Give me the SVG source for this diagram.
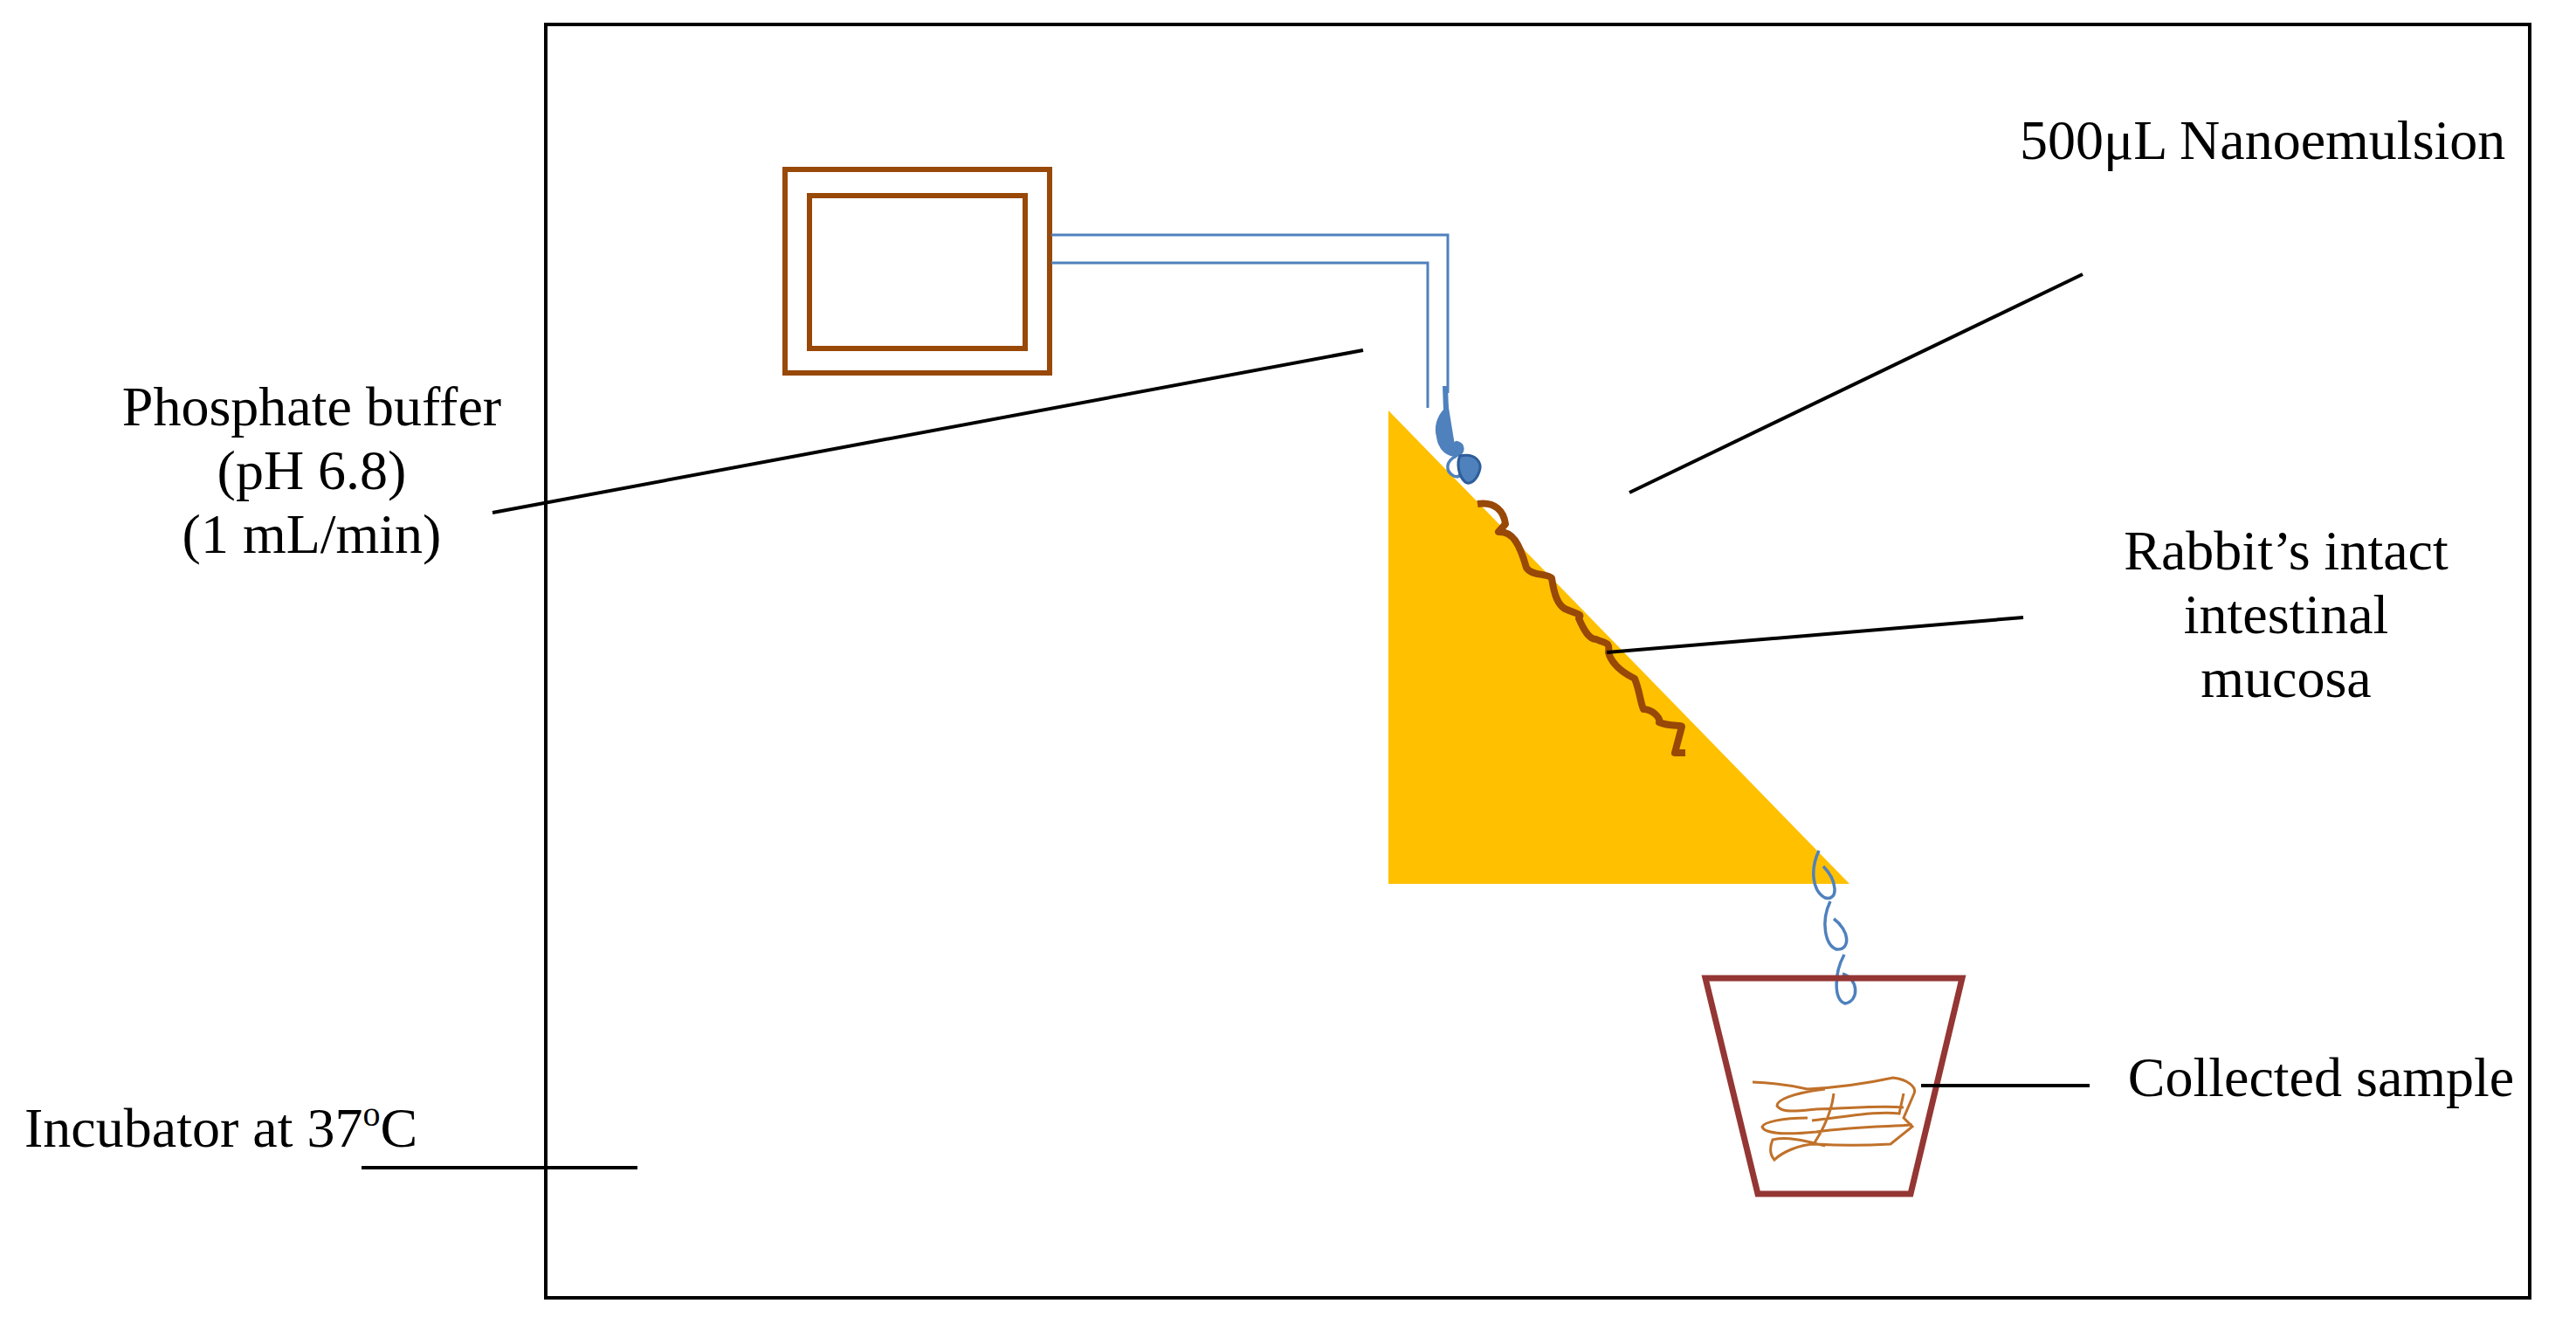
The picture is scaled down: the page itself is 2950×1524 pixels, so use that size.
<svg xmlns="http://www.w3.org/2000/svg" width="2950" height="1524" viewBox="0 0 2950 1524">
<style>
.t{font-family:"Liberation Serif","DejaVu Serif",serif;font-size:64px;fill:#000}
.l{stroke:#000;stroke-width:4;fill:none}
.tube{stroke:#4f81bd;stroke-width:3;fill:none}
.drop{stroke:#4f81bd;stroke-width:3.5;fill:none}
</style>
<rect width="2950" height="1524" fill="#fff"/>
<g id="incubator"><rect x="625" y="28" width="2272" height="1458" fill="none" stroke="#000" stroke-width="4"/></g>
<g id="pump">
<rect x="899" y="194" width="303" height="233" fill="none" stroke="#984807" stroke-width="6"/>
<rect x="927" y="224" width="247" height="175" fill="none" stroke="#984807" stroke-width="6"/>
</g>
<g id="tubes">
<path class="tube" d="M1204 269 H1658 V450"/>
<path class="tube" d="M1204 301 H1635 V467"/>
</g>
<g id="mucosa-slope"><polygon points="1590,470 1590,1012 2118,1012" fill="#ffc000"/></g>
<g id="nanoemulsion-drop">
<path d="M1655 442 L1656 470 C1648 478 1645 490 1648 500 C1650 515 1660 520 1668 520 C1675 518 1676 510 1668 508 C1660 512 1665 520 1668 522" fill="#4f81bd" stroke="#4f81bd" stroke-width="6"/>
<path class="drop" d="M1668 522 C1655 528 1655 540 1665 545 C1672 548 1676 540 1672 535"/>
<path d="M1672 522 C1690 518 1698 530 1694 540 C1690 552 1682 555 1678 552 C1670 545 1668 530 1672 522Z" fill="#4f81bd" stroke="#2e5d99" stroke-width="3"/>
</g>
<g id="intestine">
<path d="M1692 577 C1712 574 1722 585 1724 600 L1716 609 C1732 608 1740 622 1748 650 C1754 660 1772 656 1777 662 C1780 682 1784 692 1792 697 C1808 704 1812 703 1808 708 C1814 722 1820 732 1828 732 C1838 737 1844 734 1842 747 C1846 762 1862 772 1872 777 C1878 792 1878 802 1882 812 C1892 812 1902 822 1900 827 C1912 832 1926 830 1926 832 L1918 862 L1930 862" fill="none" stroke="#984807" stroke-width="8" stroke-linejoin="round"/>
</g>
<g id="falling-drops">
<path class="drop" d="M2083 974 C2073 995 2075 1020 2090 1028 C2106 1032 2104 1008 2088 992"/>
<path class="drop" d="M2096 1032 C2085 1055 2090 1082 2103 1087 C2120 1088 2118 1065 2100 1052"/>
<path class="drop" d="M2112 1093 C2100 1115 2100 1145 2113 1149 C2130 1146 2128 1120 2110 1115"/>
</g>
<g id="cup">
<polygon points="1953,1120 2247,1120 2188,1367 2013,1367" fill="none" stroke="#943634" stroke-width="7"/>
</g>
<g id="sample">
<path d="M2007 1239 C2040 1240 2060 1245 2070 1247 C2110 1245 2140 1240 2168 1234 C2185 1236 2195 1245 2192 1252 L2180 1280 L2190 1290 L2165 1310 C2130 1312 2110 1312 2080 1310 C2060 1310 2040 1320 2032 1328 C2025 1320 2028 1310 2030 1305 C2050 1300 2080 1310 2090 1312" fill="none" stroke="#c0712a" stroke-width="3"/>
<path d="M2090 1247 C2050 1252 2035 1260 2035 1266 C2040 1275 2060 1272 2080 1270 C2110 1270 2150 1265 2180 1268 M2070 1280 C2040 1280 2020 1285 2018 1290 C2020 1297 2040 1300 2080 1296 C2120 1290 2160 1290 2190 1288 M2100 1252 C2098 1270 2090 1290 2077 1310 M2180 1252 L2175 1275 C2150 1272 2120 1278 2075 1283" fill="none" stroke="#c0712a" stroke-width="3"/>
</g>
<g id="connectors">
<line class="l" x1="564" y1="587" x2="1561" y2="401"/>
<line class="l" x1="1866" y1="564" x2="2385" y2="314"/>
<line class="l" x1="1840" y1="747" x2="2317" y2="707"/>
<line class="l" x1="2200" y1="1243" x2="2393" y2="1243"/>
<line class="l" x1="414" y1="1337" x2="730" y2="1337"/>
</g>
<g id="labels">
<text class="t" x="2313" y="182">500μL Nanoemulsion</text>
<text class="t" x="357" y="487" text-anchor="middle">Phosphate buffer</text>
<text class="t" x="357" y="560" text-anchor="middle">(pH 6.8)</text>
<text class="t" x="357" y="633" text-anchor="middle">(1 mL/min)</text>
<text class="t" x="2618" y="652" text-anchor="middle">Rabbit’s intact</text>
<text class="t" x="2618" y="725" text-anchor="middle">intestinal</text>
<text class="t" x="2618" y="798" text-anchor="middle">mucosa</text>
<text class="t" x="2658" y="1255" text-anchor="middle">Collected sample</text>
<text class="t" x="28" y="1313">Incubator at 37<tspan font-size="40" dy="-24">o</tspan><tspan dy="24">C</tspan></text>
</g>
</svg>
